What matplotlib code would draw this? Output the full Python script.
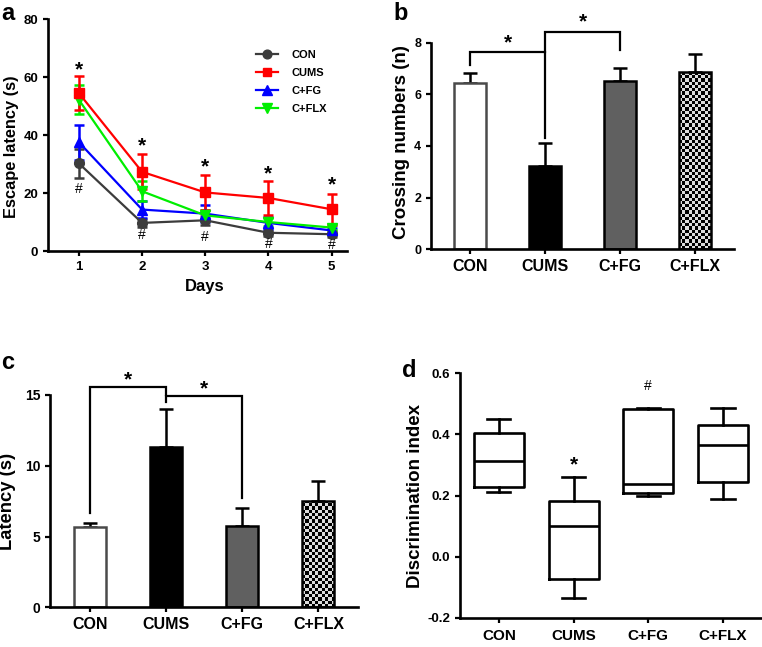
import matplotlib
matplotlib.use('Agg')
import matplotlib.pyplot as plt
from matplotlib.colors import ListedColormap
import numpy as np

plt.rcParams['font.family'] = ['Liberation Sans', 'DejaVu Sans']
plt.rcParams['font.weight'] = 'bold'
plt.rcParams['axes.labelweight'] = 'bold'

# ---- data ----
groups = ['CON', 'CUMS', 'C+FG', 'C+FLX']

# a: escape latency per day
days = [1, 2, 3, 4, 5]
con_mean = [30.2, 9.7, 10.6, 6.3, 5.8]
con_err = [5.0, 1.5, 1.5, 1.0, 1.0]
cums_mean = [54.4, 27.3, 20.2, 18.3, 14.4]
cums_err = [5.8, 6.0, 6.0, 5.8, 5.4]
fg_mean = [37.5, 14.3, 12.9, 9.7, 7.1]
fg_err = [6.0, 3.0, 3.0, 2.0, 1.0]
flx_mean = [52.1, 20.6, 12.3, 10.0, 8.1]
flx_err = [5.0, 3.5, 2.0, 1.5, 1.0]
star_y_a = [62.5, 36.3, 29.0, 26.7, 22.7]
hash_y_a = [21.5, 5.4, 4.8, 2.5, 2.0]

# b: crossing numbers
cross_mean = [6.43, 3.24, 6.52, 6.85]
cross_err = [0.38, 0.86, 0.51, 0.70]
# brackets: (left group, right group, top, left leg bottom, right leg bottom)
brackets_b = [(0, 1, 7.63, 7.14, 4.3), (1, 2, 8.43, 7.63, 7.72)]

# c: latency
lat_mean = [5.65, 11.35, 5.77, 7.53]
lat_err = [0.28, 2.65, 1.27, 1.39]
brackets_c = [(0, 1, 15.59, 6.69, 15.0), (1, 2, 14.93, 14.5, 7.7)]

# d: discrimination index (box plot stats)
di_whislo = [0.211, -0.136, 0.200, 0.188]
di_q1 = [0.227, -0.074, 0.207, 0.243]
di_med = [0.314, 0.100, 0.238, 0.365]
di_q3 = [0.406, 0.182, 0.484, 0.431]
di_whishi = [0.450, 0.260, 0.486, 0.488]

bar_faces = ['white', 'black', '#606060', None]
bar_edges = ['#4a4a4a', 'black', 'black', 'black']

fig = plt.figure(figsize=(7.62, 6.47), dpi=100)


def style_axes(ax):
    for s in ['top', 'right']:
        ax.spines[s].set_visible(False)
    for s in ['left', 'bottom']:
        ax.spines[s].set_linewidth(1.9)
    ax.tick_params(width=1.6, length=3.5, direction='out')


def checker(ax, bar):
    x0, y0 = bar.get_x(), bar.get_y()
    w, h = bar.get_width(), bar.get_height()
    p0 = ax.transData.transform((x0, y0))
    p1 = ax.transData.transform((x0 + w, y0 + h))
    nx = max(1, int(round(abs(p1[0] - p0[0]) / 3.2)))
    ny = max(1, int(round(abs(p1[1] - p0[1]) / 3.2)))
    board = np.indices((ny, nx)).sum(axis=0) % 2
    im = ax.imshow(board, cmap=ListedColormap(['#dcdcdc', 'black']),
                   extent=[x0, x0 + w, y0, y0 + h], aspect='auto',
                   interpolation='nearest', origin='lower', zorder=1)
    im.set_clip_path(bar)


def bar_panel(ax, means, errs, ylim, yticks, ticksize):
    x = np.arange(len(groups))
    ax.set_xlim(-0.52, 3.52)
    ax.set_ylim(*ylim)
    bars = ax.bar(x, means, width=0.42, zorder=2, linewidth=1.8)
    for i, b in enumerate(bars):
        b.set_edgecolor(bar_edges[i])
        if bar_faces[i] is None:
            b.set_facecolor('none')
            checker(ax, b)
        else:
            b.set_facecolor(bar_faces[i])
    ax.errorbar(x, means, yerr=[np.zeros(len(x)), errs], fmt='none',
                ecolor='black', elinewidth=1.8, capsize=5, capthick=1.8, zorder=1.5)
    ax.set_xticks(x)
    ax.set_xticklabels(groups, fontsize=11.5)
    ax.set_yticks(yticks)
    ax.tick_params(axis='y', labelsize=ticksize)
    ax.set_ylim(*ylim)
    ax.set_xlim(-0.52, 3.52)
    style_axes(ax)


def draw_brackets(ax, brackets, star_off):
    for l, r, top, lb, rb in brackets:
        ax.plot([l, l, r, r], [lb, top, top, rb], color='black', lw=1.6,
                clip_on=False, solid_joinstyle='miter')
        ax.text((l + r) / 2, top + star_off, '*', ha='center', va='center',
                fontsize=15, clip_on=False)


# ---- panel a ----
axa = fig.add_axes([0.063, 0.612, 0.392, 0.3586])
series = [
    ('CON', con_mean, con_err, '#3c3c3c', 'o', 7),
    ('C+FG', fg_mean, fg_err, '#0000ff', '^', 7.5),
    ('C+FLX', flx_mean, flx_err, '#00ee00', 'v', 7.5),
    ('CUMS', cums_mean, cums_err, '#ff0000', 's', 7),
]
handles = {}
for name, m, e, c, mk, ms in series:
    h = axa.errorbar(days, m, yerr=e, color=c, marker=mk, markersize=ms,
                     lw=1.6, elinewidth=1.8, capsize=3.5, capthick=1.8)
    handles[name] = h.lines[0]
for d, sy, hy in zip(days, star_y_a, hash_y_a):
    axa.text(d, sy, '*', ha='center', va='center', fontsize=15)
    axa.text(d, hy, '#', ha='center', va='center', fontsize=10, fontweight='normal')
axa.set_xlim(0.51, 5.24)
axa.set_ylim(0, 80)
axa.set_xticks(days)
axa.set_yticks([0, 20, 40, 60, 80])
axa.tick_params(labelsize=9.5)
axa.set_xlabel('Days', fontsize=12)
axa.set_ylabel('Escape latency (s)', fontsize=11.8)
axa.xaxis.set_label_coords(0.525, -0.12)
axa.yaxis.set_label_coords(-0.097, 0.45)
style_axes(axa)
axa.legend([handles[g] for g in groups], groups, loc='upper left',
           bbox_to_anchor=(0.696, 0.866), frameon=False, fontsize=8,
           handlelength=2.0, handletextpad=1.2, labelspacing=0.72,
           borderpad=0, borderaxespad=0, markerscale=0.9)

# ---- panel b ----
axb = fig.add_axes([0.5656, 0.6147, 0.3976, 0.3193])
bar_panel(axb, cross_mean, cross_err, (0, 8), [0, 2, 4, 6, 8], 9)
draw_brackets(axb, brackets_b, 0.38)
axb.set_ylabel('Crossing numbers (n)', fontsize=13.5)
axb.yaxis.set_label_coords(-0.069, 0.52)

# ---- panel c ----
axc = fig.add_axes([0.0656, 0.0614, 0.4044, 0.3281])
bar_panel(axc, lat_mean, lat_err, (0, 15), [0, 5, 10, 15], 10)
draw_brackets(axc, brackets_c, 0.5)
axc.set_ylabel('Latency (s)', fontsize=13.2)
axc.yaxis.set_label_coords(-0.11, 0.5)

# ---- panel d ----
axd = fig.add_axes([0.6037, 0.0453, 0.396, 0.3777])
stats = []
for i, g in enumerate(groups):
    stats.append(dict(label=g, whislo=di_whislo[i], q1=di_q1[i], med=di_med[i],
                      q3=di_q3[i], whishi=di_whishi[i], fliers=[]))
lineprops = dict(color='black', linewidth=1.9)
axd.bxp(stats, positions=np.arange(len(groups)), widths=0.67, showfliers=False,
        boxprops=lineprops, whiskerprops=lineprops, capprops=lineprops,
        medianprops=lineprops, capwidths=0.31)
axd.text(1, 0.30, '*', ha='center', va='center', fontsize=15)
axd.text(2, 0.557, '#', ha='center', va='center', fontsize=10, fontweight='normal')
axd.set_xlim(-0.52, 3.52)
axd.set_ylim(-0.2, 0.6)
axd.set_yticks([-0.2, 0.0, 0.2, 0.4, 0.6])
axd.set_yticklabels(['-0.2', '0.0', '0.2', '0.4', '0.6'])
axd.tick_params(axis='y', labelsize=9.5)
axd.tick_params(axis='x', labelsize=11, pad=5)
axd.set_ylabel('Discrimination index', fontsize=13.5)
axd.yaxis.set_label_coords(-0.119, 0.5)
style_axes(axd)

# panel letters
fig.text(0.002, 0.979, 'a', fontsize=17, ha='left', va='center')
fig.text(0.516, 0.979, 'b', fontsize=17, ha='left', va='center')
fig.text(0.002, 0.44, 'c', fontsize=17, ha='left', va='center')
fig.text(0.528, 0.428, 'd', fontsize=17, ha='left', va='center')

fig.savefig('out.png', dpi=100)
